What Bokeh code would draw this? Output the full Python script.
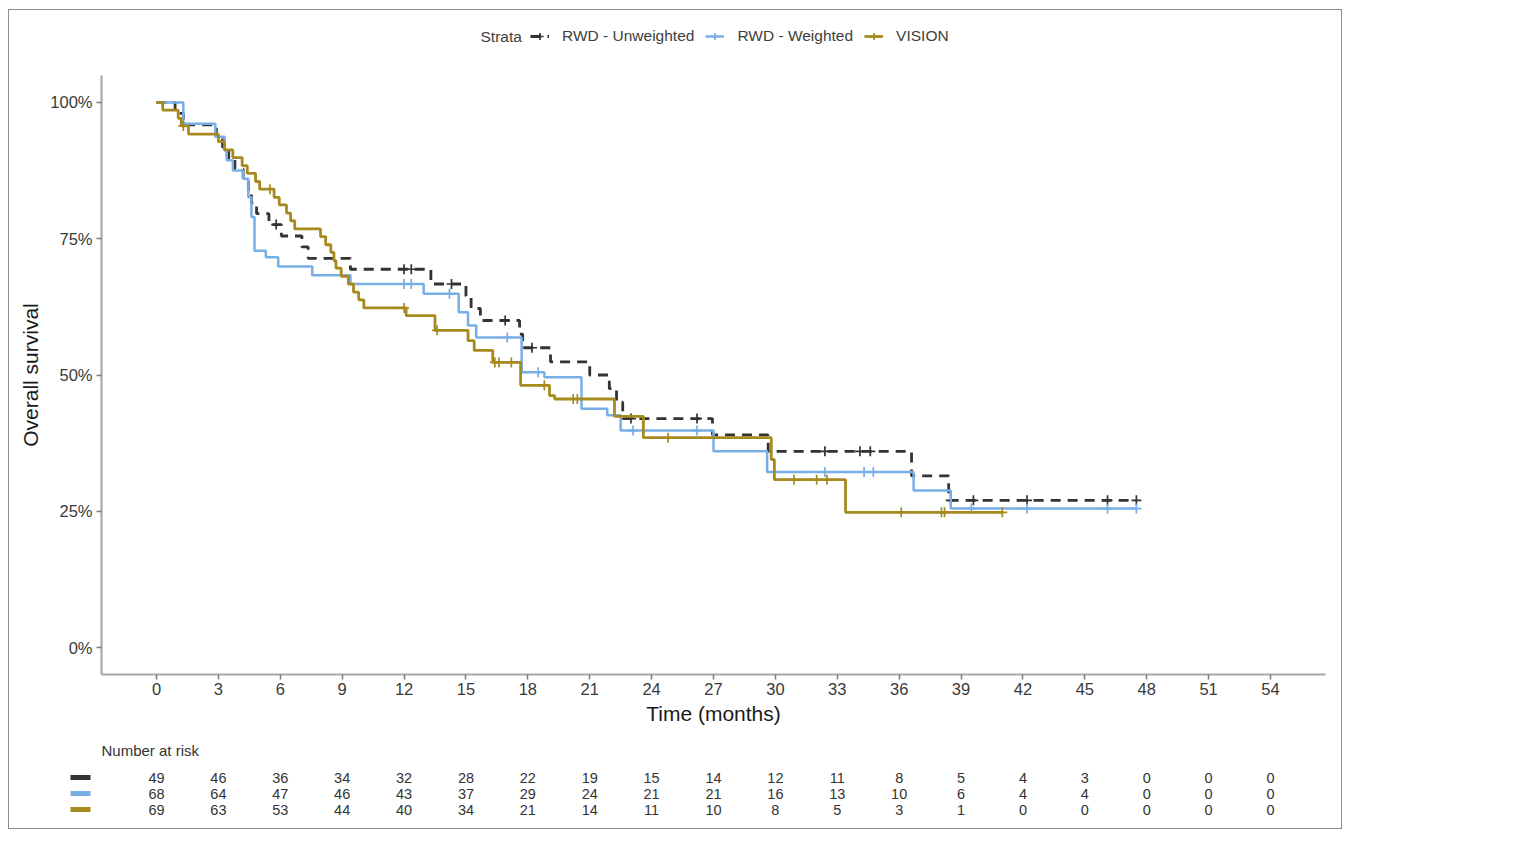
from bokeh.plotting import figure
from bokeh.models import (Range1d, FixedTicker, NumeralTickFormatter, Legend,
                          LegendItem, Label, ColumnDataSource)
from bokeh.layouts import column
from bokeh.embed import file_html
from bokeh.resources import INLINE
from bokeh.core.properties import value

# ---------------- data ----------------
series_names = ["RWD - Unweighted", "RWD - Weighted", "VISION"]

# RWD - Unweighted: event times (months) and survival after each step
unw_times = [0.9, 1.3, 2.9, 3.2, 3.5, 3.8, 4.2, 4.45, 4.6, 4.85, 5.45, 6.05, 7.05,
             7.35, 9.4, 13.3, 15.0, 15.25, 15.7, 17.6, 17.75, 19.1, 21.0, 21.95,
             22.3, 22.6, 26.95, 29.65, 36.6, 38.4]
unw_surv = [0.980, 0.959, 0.939, 0.918, 0.898, 0.878, 0.857, 0.837, 0.816, 0.796,
            0.776, 0.755, 0.735, 0.714, 0.694, 0.667, 0.645, 0.622, 0.600, 0.575,
            0.550, 0.524, 0.500, 0.475, 0.450, 0.420, 0.390, 0.360, 0.315, 0.270]
unw_end = 47.5
unw_censor = [5.8, 12.0, 12.35, 14.3, 16.9, 18.2, 23.0, 26.2, 32.4, 34.1, 34.6,
              38.5, 39.6, 42.2, 46.1, 47.5]

# RWD - Weighted
wtd_times = [1.3, 2.85, 3.3, 3.4, 3.7, 4.2, 4.45, 4.6, 4.75, 5.3, 5.9, 7.55, 9.4,
             12.95, 14.65, 15.1, 15.5, 17.7, 18.8, 20.6, 21.85, 22.5, 27.0, 29.6,
             36.7, 38.5]
wtd_surv = [0.961, 0.937, 0.912, 0.894, 0.875, 0.860, 0.826, 0.790, 0.728, 0.716,
            0.699, 0.683, 0.667, 0.649, 0.615, 0.591, 0.569, 0.505, 0.496, 0.438,
            0.426, 0.398, 0.360, 0.322, 0.288, 0.255]
wtd_end = 47.5
wtd_censor = [12.0, 12.35, 14.2, 17.0, 18.5, 23.1, 26.2, 32.4, 34.3, 34.75,
              39.5, 42.2, 46.1, 47.5]

# VISION
vis_times = [0.3, 1.05, 1.2, 1.55, 3.0, 3.3, 3.7, 4.15, 4.4, 4.8, 5.0, 5.7, 5.95,
             6.3, 6.5, 6.7, 7.95, 8.2, 8.45, 8.6, 8.7, 8.95, 9.3, 9.55, 9.8, 10.05,
             12.1, 13.5, 15.1, 15.4, 16.3, 17.65, 19.05, 19.3, 22.2, 23.6, 29.8,
             29.95, 33.4]
vis_surv = [0.986, 0.971, 0.957, 0.942, 0.928, 0.913, 0.899, 0.884, 0.870, 0.855,
            0.841, 0.826, 0.812, 0.797, 0.783, 0.768, 0.754, 0.739, 0.725, 0.710,
            0.696, 0.681, 0.667, 0.652, 0.638, 0.623, 0.609, 0.582, 0.563, 0.545,
            0.523, 0.481, 0.462, 0.456, 0.424, 0.385, 0.345, 0.308, 0.248]
vis_end = 41.0
vis_censor = [1.3, 5.5, 12.0, 13.6, 16.4, 16.6, 17.2, 18.8, 20.2, 20.4, 24.8,
              30.9, 32.0, 32.5, 36.1, 38.05, 38.2, 41.0]

# Number at risk table
risk_times = [0, 3, 6, 9, 12, 15, 18, 21, 24, 27, 30, 33, 36, 39, 42, 45, 48, 51, 54]
risk_unw = [49, 46, 36, 34, 32, 28, 22, 19, 15, 14, 12, 11, 8, 5, 4, 3, 0, 0, 0]
risk_wtd = [68, 64, 47, 46, 43, 37, 29, 24, 21, 21, 16, 13, 10, 6, 4, 4, 0, 0, 0]
risk_vis = [69, 63, 53, 44, 40, 34, 21, 14, 11, 10, 8, 5, 3, 1, 0, 0, 0, 0, 0]

y_ticks = [0, 0.25, 0.5, 0.75, 1.0]

# ---------------- styles ----------------
FONT = "Liberation Sans"
colors = ["#333333", "#78aee6", "#a68a1e"]
dashes = ["10 7", "solid", "solid"]
widths = [2.8, 2.5, 2.8]

W = 1332
LEG_H = 65
MAIN_H = 661
TABLE_H = 92
BL, BR, BB = 92, 16, 62
FRAME_W = W - BL - BR
XMIN, XMAX = -2.667, 56.667
YMIN, YMAX = -0.0495, 1.0495
ppx = FRAME_W / (XMAX - XMIN)      # pixels per month in the main plot


def no_frame_align(f):
    if "frame_align" in f.properties():
        f.frame_align = False


def step_xy(times, surv, end):
    xs = [0.0] + list(times) + [end]
    ys = [1.0] + list(surv) + [surv[-1]]
    return xs, ys


def surv_at(times, surv, t):
    s = 1.0
    for ti, si in zip(times, surv):
        if ti <= t:
            s = si
    return s


all_series = [
    (unw_times, unw_surv, unw_end, unw_censor),
    (wtd_times, wtd_surv, wtd_end, wtd_censor),
    (vis_times, vis_surv, vis_end, vis_censor),
]


def draw_series(fig, i):
    tt, ss, end, cens = all_series[i]
    xs, ys = step_xy(tt, ss, end)
    r_line = fig.step(xs, ys, mode="after", line_color=colors[i],
                      line_width=widths[i], line_dash=dashes[i])
    cy = [surv_at(tt, ss, c) for c in cens]
    r_c = fig.scatter(cens, cy, marker="cross", size=10, line_color=colors[i],
                      line_width=1.7)
    return r_line, r_c


def bare_figure(height, x_range, y_range):
    f = figure(width=W, height=height, x_range=x_range, y_range=y_range,
               output_backend="svg", toolbar_location=None, min_border=0,
               x_axis_location=None, y_axis_location=None)
    f.outline_line_color = None
    f.xgrid.visible = False
    f.ygrid.visible = False
    no_frame_align(f)
    return f


# ---------------- legend strip (top) ----------------
LX0 = 100.0   # x-range placed beyond the data so only the legend shows
lg = bare_figure(LEG_H, Range1d(LX0, LX0 + W), Range1d(0, LEG_H))

legend_items = []
for i in range(3):
    r_line, r_c = draw_series(lg, i)
    legend_items.append(LegendItem(label=series_names[i], renderers=[r_line, r_c]))

legend = Legend(items=legend_items, orientation="horizontal",
                location=(530 - 9, LEG_H - 26 - 9),
                glyph_width=19, glyph_height=18, label_standoff=13, spacing=11,
                padding=0, margin=0, border_line_color=None,
                background_fill_alpha=0.0, label_text_font=FONT,
                label_text_font_size="15.5px", label_text_color="#404040",
                label_height=18)
lg.add_layout(legend, "center")
lg.add_layout(Label(x=LX0 + (480 - 9), y=LEG_H - 26, text="Strata",
                    text_font=FONT, text_font_size="15.5px", text_color="#404040",
                    text_baseline="middle", text_align="left"))

# ---------------- main KM plot ----------------
p = figure(width=W, height=MAIN_H, x_range=Range1d(XMIN, XMAX),
           y_range=Range1d(YMIN, YMAX), output_backend="svg",
           toolbar_location=None, min_border_left=BL, min_border_right=BR,
           min_border_top=0, min_border_bottom=BB)
p.outline_line_color = None
p.xgrid.visible = False
p.ygrid.visible = False
no_frame_align(p)

for i in range(3):
    draw_series(p, i)

for ax in (p.xaxis[0], p.yaxis[0]):
    ax.axis_line_color = "#a8a8a8"
    ax.axis_line_width = 2.2
    ax.major_tick_line_color = "#7a7a7a"
    ax.major_tick_line_width = 1.5
    ax.major_tick_out = 5
    ax.major_tick_in = 0
    ax.minor_tick_line_color = None
    ax.major_label_text_font = FONT
    ax.major_label_text_font_size = "16.5px"
    ax.major_label_text_color = "#3a3a3a"
    ax.axis_label_text_font = FONT
    ax.axis_label_text_font_size = "21px"
    ax.axis_label_text_font_style = "normal"
    ax.axis_label_text_color = "#1a1a1a"

p.xaxis.ticker = FixedTicker(ticks=risk_times)
p.xaxis.axis_label = "Time (months)"
p.xaxis.major_label_standoff = 3
p.xaxis.axis_label_standoff = 4
p.yaxis.ticker = FixedTicker(ticks=y_ticks)
p.yaxis.formatter = NumeralTickFormatter(format="0%")
p.yaxis.axis_label = "Overall survival"
p.yaxis.major_label_standoff = 4
p.yaxis.axis_label_standoff = 5

# ---------------- risk table (same month scale as the plot) ----------------
TX0 = XMIN - BL / ppx
TX1 = XMAX + BR / ppx
ROW_PX = 16
row0_px = 41
TY_END = 0 - row0_px / ROW_PX
TY_START = TY_END + TABLE_H / ROW_PX

t = bare_figure(TABLE_H, Range1d(TX0, TX1), Range1d(TY_START, TY_END))

rx, ry, rt = [], [], []
for row, counts in enumerate([risk_unw, risk_wtd, risk_vis]):
    for tk, n in zip(risk_times, counts):
        rx.append(tk)
        ry.append(row)
        rt.append(str(n))
t.text(x="x", y="y", text="text", source=ColumnDataSource(dict(x=rx, y=ry, text=rt)),
       text_font=value(FONT), text_font_size="14.5px", text_color="#333333",
       text_align="center", text_baseline="middle")

t.text(x=[XMIN], y=[TY_END + 14 / ROW_PX], text=["Number at risk"],
       text_font=value(FONT), text_font_size="15px", text_color="#333333",
       text_align="left", text_baseline="middle")

key_x = TX0 + (80 - 9) / ppx
t.rect(x=[key_x] * 3, y=[0, 1, 2], width=20, height=5, width_units="screen",
       height_units="screen", fill_color=colors, line_color=None)

layout = column(lg, p, t, spacing=0,
                styles={"border": "1px solid #8c8c8c", "margin-left": "8px",
                        "margin-top": "9px"})

open("out.html", "w").write(file_html(layout, INLINE))
